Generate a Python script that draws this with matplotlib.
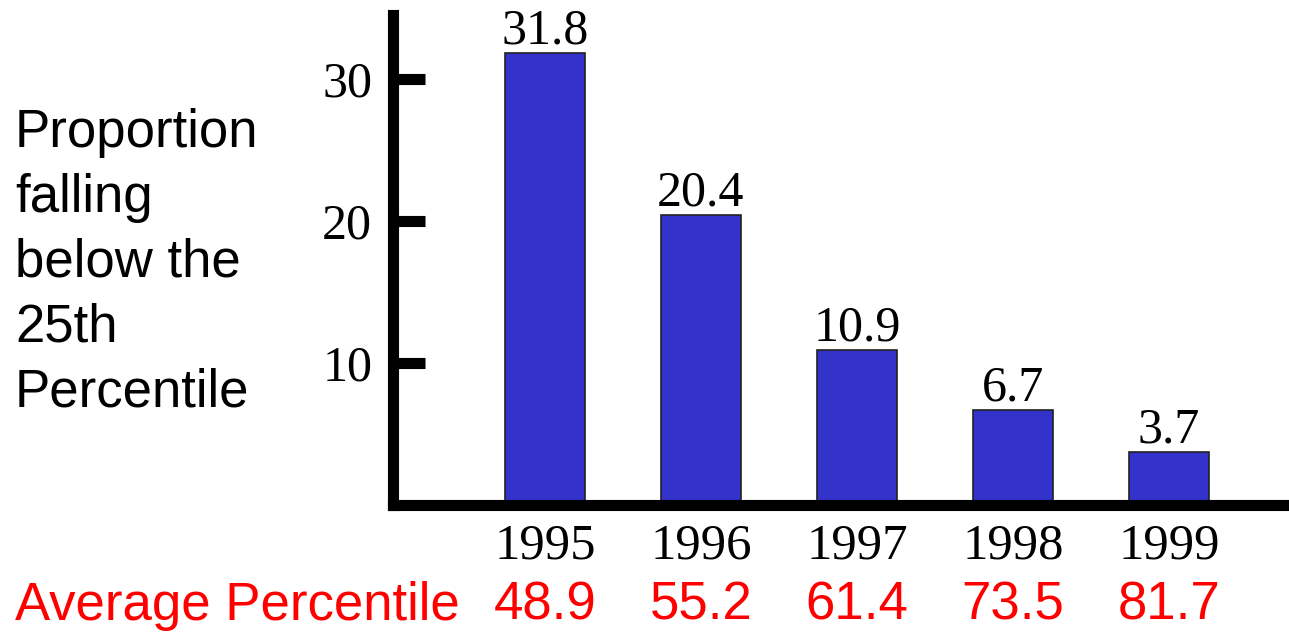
import matplotlib.pyplot as plt
import matplotlib.transforms as mtransforms
import numpy as np

years = ['1995', '1996', '1997', '1998', '1999']
below_25th = [31.8, 20.4, 10.9, 6.7, 3.7]
avg_percentile = [48.9, 55.2, 61.4, 73.5, 81.7]
y_ticks = [10, 20, 30]

bar_color = '#3333CC'
red = '#FF0000'
serif = 'Liberation Serif'
sans = 'Liberation Sans'

fig = plt.figure(figsize=(12.89, 6.36), dpi=100)
# axes box in figure pixels: left 393, right 1289, bottom 505 (from top), top 15
W, H = 1289, 636
ax = fig.add_axes([393 / W, (H - 505) / H, (1289 - 393) / W, (505 - 15) / H])

x = np.arange(len(years))
ax.bar(x, below_25th, width=0.513, color=bar_color, edgecolor='#222222',
       linewidth=1.2, zorder=2)

for xi, v in zip(x, below_25th):
    ax.annotate(f'{v}', (xi, v), xytext=(0, 7), textcoords='offset points',
                ha='center', va='baseline', fontsize=36, family=serif)

ax.set_xlim(-0.974, 4.77)
ax.set_ylim(0, 34.5)

for side in ('top', 'right'):
    ax.spines[side].set_visible(False)
for side in ('left', 'bottom'):
    ax.spines[side].set_linewidth(8)
    ax.spines[side].set_zorder(3)
# square end on the x axis fills the corner with the y axis
ax.spines['bottom'].set_capstyle('projecting')

ax.set_yticks(y_ticks)
ax.set_yticklabels([str(t) for t in y_ticks], family=serif, fontsize=36)
ax.tick_params(axis='y', direction='in', length=23, width=8, pad=15)

ax.set_xticks(x)
ax.set_xticklabels(years, family=serif, fontsize=36.5)
ax.tick_params(axis='x', length=0, pad=13)

# red row of average percentiles under the year labels
trans = mtransforms.blended_transform_factory(ax.transData, fig.transFigure)
row_y = (H - 620) / H
fig.text(15 / W, row_y, 'Average Percentile', color=red, fontsize=38,
         family=sans, ha='left', va='baseline')
for xi, p in zip(x, avg_percentile):
    ax.text(xi, row_y, f'{p}', transform=trans, color=red, fontsize=38,
            family=sans, ha='center', va='baseline', clip_on=False)

fig.text(15 / W, (H - 108) / H,
         'Proportion\nfalling\nbelow the\n25th\nPercentile',
         fontsize=38, family=sans, ha='left', va='top', linespacing=1.38)

fig.savefig('out.png', dpi=100)
